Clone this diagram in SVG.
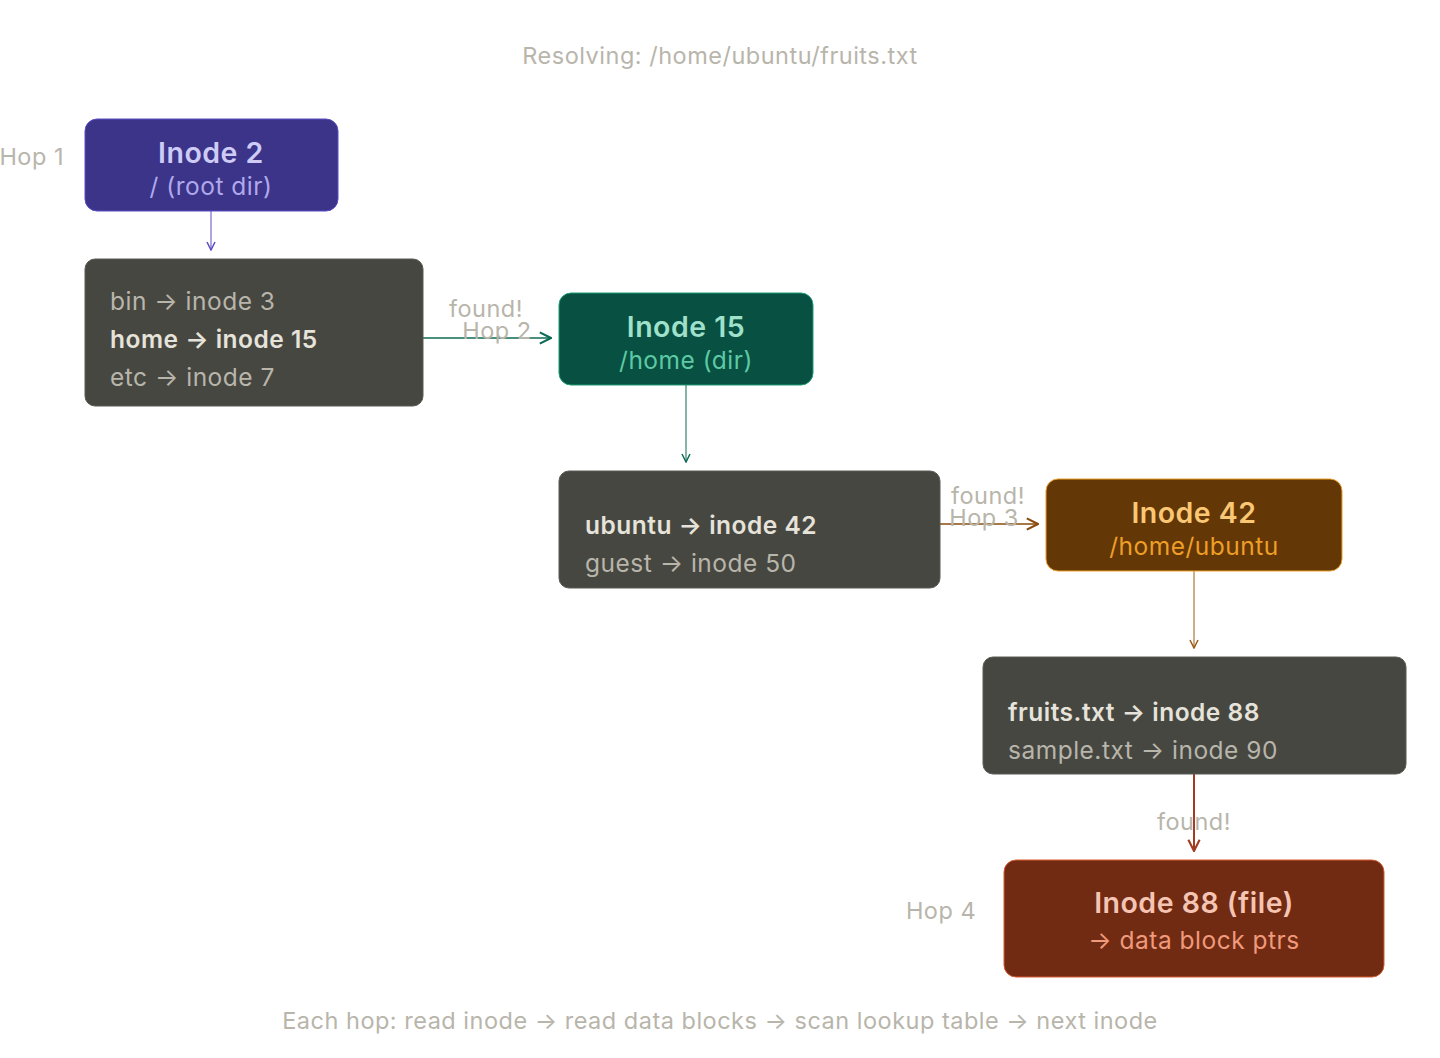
<svg xmlns="http://www.w3.org/2000/svg" width="1440" height="1058" viewBox="0 0 1440 1058">
<style>
text{font-family:Inter,"Noto Sans","Liberation Sans",sans-serif;letter-spacing:0.5px}
.lbl{fill:#b8b5ab;font-size:23.5px;text-anchor:middle}
.t{font-size:28.5px;font-weight:600;text-anchor:middle}
.s{font-size:24.5px;text-anchor:middle}
.row{font-size:24.5px;fill:#b8b5ab}
.rowb{font-size:24.5px;fill:#e6e3da;font-weight:600}
.tbl{fill:#474741;stroke:#5a5a54;stroke-width:1}
</style>
<defs>
<marker id="a" viewBox="0 0 10 10" refX="9" refY="5" markerWidth="10" markerHeight="10" markerUnits="userSpaceOnUse" orient="auto"><path d="M1,1 L9,5 L1,9" fill="none" stroke="context-stroke" stroke-width="1.5"/></marker>
<marker id="b" viewBox="0 0 10 10" refX="9" refY="5" markerWidth="14" markerHeight="14" markerUnits="userSpaceOnUse" orient="auto"><path d="M1,1 L9,5 L1,9" fill="none" stroke="context-stroke" stroke-width="1.5"/></marker>
</defs>
<rect width="1440" height="1058" fill="#ffffff"/>
<text class="lbl" x="720" y="64">Resolving: /home/ubuntu/fruits.txt</text>
<text class="lbl" x="720" y="1029">Each hop: read inode → read data blocks → scan lookup table → next inode</text>
<g id="connectors" fill="none">
<path d="M211,211 V250" stroke="#5b4cc4" stroke-width="1" marker-end="url(#a)"/>
<path d="M423,338 H551" stroke="#0c6b55" stroke-width="1.5" marker-end="url(#b)"/>
<path d="M686,385 V462" stroke="#0c6b55" stroke-width="1" marker-end="url(#a)"/>
<path d="M940,524 H1038" stroke="#8a4c0c" stroke-width="1.5" marker-end="url(#b)"/>
<path d="M1194,571 V648" stroke="#9a5a14" stroke-width="1" marker-end="url(#a)"/>
<path d="M1194,774 V851" stroke="#a33a22" stroke-width="2" marker-end="url(#b)"/>
</g>
<g id="labels">
<text class="lbl" x="64" y="165" style="text-anchor:end">Hop 1</text>
<text class="lbl" x="486" y="317">found!</text>
<text class="lbl" x="497" y="339">Hop 2</text>
<text class="lbl" x="988" y="504">found!</text>
<text class="lbl" x="984" y="526">Hop 3</text>
<text class="lbl" x="1194" y="830">found!</text>
<text class="lbl" x="941" y="919">Hop 4</text>
</g>
<g id="inode2">
<rect x="85" y="119" width="253" height="92" rx="12" fill="#3c3489" stroke="#5b4cc4" stroke-width="1"/>
<text class="t" x="211" y="163" fill="#cecbf6">Inode 2</text>
<text class="s" x="211" y="195" fill="#afa9ec">/ (root dir)</text>
</g>
<g id="table1">
<rect class="tbl" x="85" y="259" width="338" height="147" rx="10"/>
<text class="row" x="110" y="310">bin → inode 3</text>
<text class="rowb" x="110" y="348">home → inode 15</text>
<text class="row" x="110" y="386">etc → inode 7</text>
</g>
<g id="inode15">
<rect x="559" y="293" width="254" height="92" rx="12" fill="#085041" stroke="#1d9e75" stroke-width="1"/>
<text class="t" x="686" y="337" fill="#9fe1cb">Inode 15</text>
<text class="s" x="686" y="369" fill="#5dcaa5">/home (dir)</text>
</g>
<g id="table2">
<rect class="tbl" x="559" y="471" width="381" height="117" rx="10"/>
<text class="rowb" x="585" y="534">ubuntu → inode 42</text>
<text class="row" x="585" y="572">guest → inode 50</text>
</g>
<g id="inode42">
<rect x="1046" y="479" width="296" height="92" rx="12" fill="#633806" stroke="#ef9f27" stroke-width="1"/>
<text class="t" x="1194" y="523" fill="#fac775">Inode 42</text>
<text class="s" x="1194" y="555" fill="#ef9f27">/home/ubuntu</text>
</g>
<g id="table3">
<rect class="tbl" x="983" y="657" width="423" height="117" rx="10"/>
<text class="rowb" x="1008" y="721">fruits.txt → inode 88</text>
<text class="row" x="1008" y="759">sample.txt → inode 90</text>
</g>
<g id="inode88">
<rect x="1004" y="860" width="380" height="117" rx="12" fill="#712b13" stroke="#d85a30" stroke-width="1"/>
<text class="t" x="1194" y="913" fill="#f5c4b3">Inode 88 (file)</text>
<text class="s" x="1194" y="949" fill="#f0997b">→ data block ptrs</text>
</g>
</svg>
